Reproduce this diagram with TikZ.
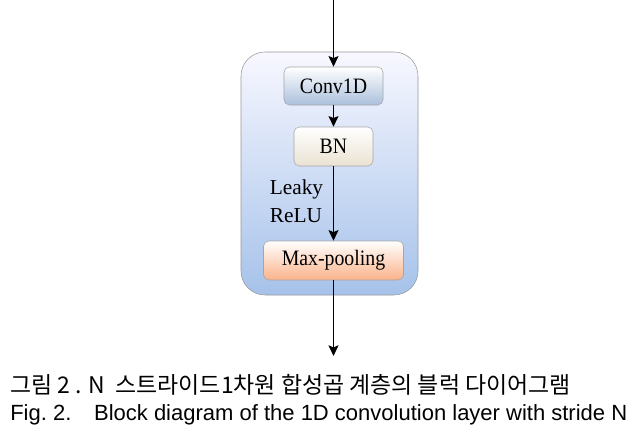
\documentclass[tikz,border=0pt]{standalone}
\usepackage{fontspec}
\setmainfont{Liberation Serif}
\newfontfamily\boxfont{Liberation Serif}[FakeStretch=0.9]
\newfontfamily\capfont{Liberation Sans}
\newfontfamily\kofont{Noto Sans CJK KR}
\usetikzlibrary{arrows.meta}
\definecolor{layerblue}{RGB}{166,194,234}
\definecolor{convblue}{RGB}{170,192,220}
\definecolor{bncream}{RGB}{234,226,210}
\definecolor{poolpeach}{RGB}{250,178,138}

\begin{document}
\begin{tikzpicture}[
    x=0.75pt, y=-0.75pt,
    box/.style={rectangle, draw=gray!70, rounded corners=4pt, font=\boxfont\fontsize{16.5}{18}\selectfont, inner sep=0pt},
    arrow/.style={-{Stealth[length=8pt, width=7.5pt, inset=1.5pt]}, line width=0.9pt, black}
]
\useasboundingbox (0,0) rectangle (637,436);

% Outer layer box
\node[rectangle, draw=gray!80, rounded corners=18pt, top color=blue!3, bottom color=layerblue,
      minimum width=177*0.75pt, minimum height=243*0.75pt] (layer) at (329.5,173.5) {};

% Blocks
\node[box, top color=white, bottom color=convblue, minimum width=99*0.75pt, minimum height=38*0.75pt] (conv) at (333.5,86) {Conv1D};
\node[box, top color=white, bottom color=bncream, minimum width=79*0.75pt, minimum height=39*0.75pt] (bn) at (333.5,146.5) {BN};
\node[box, top color=white, bottom color=poolpeach, minimum width=140*0.75pt, minimum height=39*0.75pt] (pool) at (333.5,260.5) {Max-pooling};

% Input / output ends
\coordinate (in) at (333.5,0);
\coordinate (out) at (333.5,356);

% Connections
\draw[arrow] (in) -- (conv);
\draw[arrow] (conv) -- (bn);
\draw[arrow] (bn) -- node[left, align=left, font=\fontsize{16}{21}\selectfont, xshift=-4pt, yshift=2pt] {Leaky\\ReLU} (pool);
\draw[arrow] (pool) -- (out);

% Caption
\node[anchor=west, inner sep=0pt, font=\kofont\fontsize{17.2}{18}\selectfont] (capko) at (10,385)
    {그림 2 . N \ 스트라이드1차원 합성곱 계층의 블럭 다이어그램};
\node[anchor=west, inner sep=0pt, font=\capfont\fontsize{16.5}{18}\selectfont] (capen) at (10,415)
    {\makebox[462.75pt][l]{Fig.~2.\hfill Block diagram of the 1D convolution layer with stride N}};

\end{tikzpicture}
\end{document}
